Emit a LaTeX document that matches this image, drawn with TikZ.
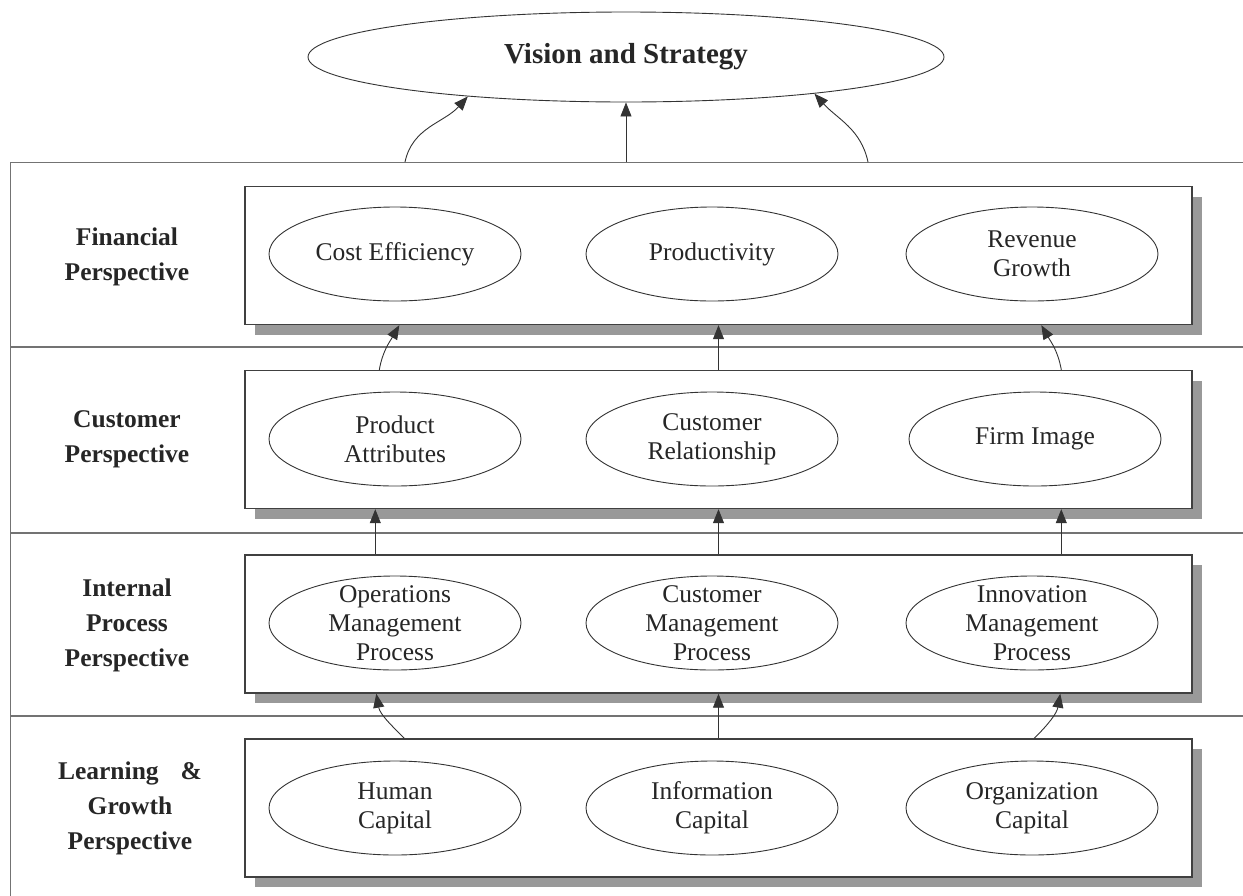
\documentclass[tikz,border=0pt]{standalone}
\usepackage{fontspec}
\setmainfont{Liberation Serif}
\usetikzlibrary{arrows.meta,shapes.geometric,shadows,calc}

\begin{document}
\begin{tikzpicture}[x=1pt, y=-1pt,
    >={Triangle[length=14pt, width=11pt]},
    line/.style  = {draw=black!80, line width=0.9pt},
    rule/.style  = {draw=black!55, line width=1.4pt},
    panel/.style = {draw=black!75, line width=1.4pt, fill=white,
                    minimum width=947pt, minimum height=138pt,
                    drop shadow={shadow xshift=10pt, shadow yshift=-10pt,
                                 fill=black!40, opacity=1}},
    oval/.style  = {ellipse, draw=black!80, line width=0.9pt, fill=white,
                    inner sep=0pt, minimum width=252pt, minimum height=94pt},
    otext/.style = {align=center, text=black!85, font=\fontsize{25.5}{29}\selectfont},
    persp/.style = {align=center, text=black!85,
                    font=\fontsize{25.5}{35}\selectfont\bfseries}
]
\useasboundingbox (0,0) rectangle (1243,895);

% Outer frame and row dividers
\node[rule, draw, inner sep=0pt, minimum width=1250pt, minimum height=750pt,
      anchor=north west] (frame) at (10,162) {};
\foreach \y in {347,533,716}
    \draw[rule] (10,\y) -- (1260,\y);

% Vision and strategy
\node[oval, minimum width=636pt, minimum height=90pt, text=black!85,
      font=\fontsize{29}{32}\selectfont\bfseries] (vision) at (626,57) {Vision and Strategy};

% Perspective labels
\node[persp] (pfin) at (127,257) {Financial\\Perspective};
\node[persp] (pcus) at (127,439) {Customer\\Perspective};
\node[persp] (pint) at (127,625) {Internal\\Process\\Perspective};
\node[persp] (plrn) at (130,808) {Learning\hspace{22pt}\&\\Growth\\Perspective};

% Panels
\node[panel] (fin) at (718.5,255.5) {};
\node[panel] (cus) at (718.5,439.5) {};
\node[panel] (int) at (718.5,624) {};
\node[panel] (lrn) at (718.5,808) {};

% Objectives
\foreach \i/\x/\t in {1/395/Cost Efficiency, 2/712/Productivity, 3/1032/{Revenue\\Growth}}
    \node[oval, label={[otext]center:\t}] (fin\i) at (\x,254) {};
\foreach \i/\x/\t in {1/395/{Product\\Attributes}, 2/712/{Customer\\Relationship}, 3/1035/Firm Image}
    \node[oval, label={[otext]center:\t}] (cus\i) at (\x,439) {};
\foreach \i/\x/\t in {1/395/{Operations\\Management\\Process}, 2/712/{Customer\\Management\\Process},
                      3/1032/{Innovation\\Management\\Process}}
    \node[oval, label={[otext]center:\t}] (int\i) at (\x,623) {};
\foreach \i/\x/\t in {1/395/{Human\\Capital}, 2/712/{Information\\Capital}, 3/1032/{Organization\\Capital}}
    \node[oval, label={[otext]center:\t}] (lrn\i) at (\x,808) {};

% Links up to the vision
\draw[line,->] ($(frame.north west)+(395,0)$) to[out=78,in=228] (vision.194);
\draw[line,->] ($(frame.north west)+(616,0)$) -- (vision.south);
\draw[line,->] ($(frame.north west)+(858,0)$) to[out=102,in=-48] (vision.-11);

% Customer to financial
\draw[line,->] ($(cus.north west)+(135,0)$) to[out=80,in=240] ($(fin.south west)+(155,0)$);
\draw[line,->] (cus.north) -- (fin.south);
\draw[line,->] ($(cus.north west)+(817,0)$) to[out=100,in=-60] ($(fin.south west)+(797,0)$);

% Internal to customer
\foreach \dx in {131,817}
    \draw[line,->] ($(int.north west)+(\dx,0)$) -- ($(cus.south west)+(\dx,0)$);
\draw[line,->] (int.north) -- (cus.south);

% Learning to internal
\draw[line,->] ($(lrn.north west)+(160,0)$) to[out=135,in=-80] ($(int.south west)+(132,0)$);
\draw[line,->] (lrn.north) -- (int.south);
\draw[line,->] ($(lrn.north west)+(790,0)$) to[out=45,in=-100] ($(int.south west)+(816,0)$);

\end{tikzpicture}
\end{document}
